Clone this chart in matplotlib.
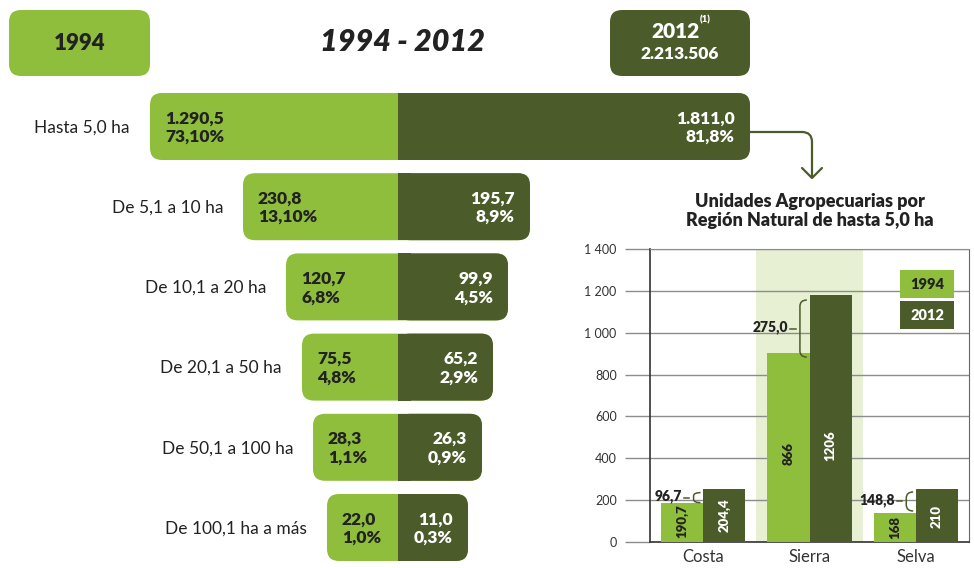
import matplotlib
matplotlib.use('Agg')
import matplotlib.pyplot as plt
import numpy as np
from matplotlib.patches import FancyBboxPatch, Rectangle, PathPatch
from matplotlib.path import Path

plt.rcParams['font.family'] = ['Lato', 'DejaVu Sans']

LIGHT = '#8fbd3c'
DARK = '#4b5b2a'
SHADE = '#e7f0d2'
INK = '#222222'
BW = 'heavy'

# funnel: size ranges, values (thousands) and shares
ranges = ['Hasta 5,0 ha', 'De 5,1 a 10 ha', 'De 10,1 a 20 ha',
          'De 20,1 a 50 ha', 'De 50,1 a 100 ha', 'De 100,1 ha a más']
val_1994 = ['1.290,5', '230,8', '120,7', '75,5', '28,3', '22,0']
pct_1994 = ['73,10%', '13,10%', '6,8%', '4,8%', '1,1%', '1,0%']
val_2012 = ['1.811,0', '195,7', '99,9', '65,2', '26,3', '11,0']
pct_2012 = ['81,8%', '8,9%', '4,5%', '2,9%', '0,9%', '0,3%']
# drawn bar lengths of the funnel halves
len_1994 = [248, 155, 112, 96, 85, 71]
len_2012 = [352, 132, 110, 95, 84, 70]

# bar chart: units by natural region (drawn heights and printed labels)
regions = ['Costa', 'Sierra', 'Selva']
h_1994 = [185, 905, 138]
h_2012 = [253, 1180, 253]
lab_1994 = ['190,7', '866', '168']
lab_2012 = ['204,4', '1206', '210']
lab_y_1994 = [99, 420, 66]
lab_y_2012 = [128, 462, 123]
diff_lab = ['96,7', '275,0', '148,8']
diff_lo = [187, 884, 147]
diff_hi = [235, 1157, 238]

fig = plt.figure(figsize=(9.74, 5.68), dpi=100)

# ---- funnel part, drawn in pixel units ----
ax0 = fig.add_axes([0, 0, 1, 1])
ax0.set_xlim(0, 974)
ax0.set_ylim(568, 0)
ax0.axis('off')

rad = 12
cx = 398
row_h = 67


def rbox(ax, x, y, w, h, color):
    ax.add_patch(FancyBboxPatch((x, y), w, h, boxstyle='round,pad=0,rounding_size=%d' % rad,
                                fc=color, ec='none', zorder=2))


# year boxes
rbox(ax0, 9, 10, 141, 66, LIGHT)
ax0.text(79.5, 44, '1994', ha='center', va='center', fontsize=16, fontweight=BW, color=INK, zorder=3)
rbox(ax0, 610, 10, 140, 66, DARK)
ax0.text(676, 31, '2012', ha='center', va='center', fontsize=15, fontweight=BW,
         color='white', zorder=3)
ax0.text(700, 20, '(1)', ha='left', va='center', fontsize=7, fontweight=BW,
         color='white', zorder=3)
ax0.text(680, 54, '2.213.506', ha='center', va='center', fontsize=12.5, fontweight=BW,
         color='white', zorder=3)
ax0.text(403, 42, '1994 - 2012', ha='center', va='center', fontsize=22, fontweight=BW,
         fontstyle='italic', color=INK)

for i, name in enumerate(ranges):
    top = 93 + 80.2 * i
    yc = top + row_h / 2
    l, r = len_1994[i], len_2012[i]
    rbox(ax0, cx - l, top, l + r, row_h, LIGHT)
    rbox(ax0, cx, top, r, row_h, DARK)
    ax0.add_patch(Rectangle((cx, top), rad + 1, row_h, fc=DARK, ec='none', zorder=2))
    ax0.text(cx - l + 15, yc + 1, val_1994[i] + '\n' + pct_1994[i], ha='left', va='center',
             fontsize=12.5, fontweight=BW, color=INK, linespacing=1.2, zorder=3)
    ax0.text(cx + r - 15, yc + 1, val_2012[i] + '\n' + pct_2012[i], ha='right', va='center',
             fontsize=12.5, fontweight=BW, color='white', linespacing=1.2, zorder=3,
             multialignment='right')
    ax0.text(cx - l - 20, yc + 1, name, ha='right', va='center', fontsize=12.5, color=INK)

# connector arrow
ax0.add_patch(PathPatch(Path([(750, 132), (802, 132), (812, 132), (812, 142), (812, 178)],
                             [Path.MOVETO, Path.LINETO, Path.CURVE3, Path.CURVE3, Path.LINETO]),
                        fc='none', ec=DARK, lw=1.6))
ax0.plot([802, 812, 822], [168, 178, 168], color=DARK, lw=1.6, solid_capstyle='round')

ax0.text(810, 211, 'Unidades Agropecuarias por\nRegión Natural de hasta 5,0 ha', ha='center',
         va='center', fontsize=13, fontweight=BW, color=INK, linespacing=1.2)

# ---- bar chart ----
ax = fig.add_axes([650 / 974, (568 - 541.7) / 568, 319 / 974, 292.4 / 568])
x = np.arange(len(regions))
w = 0.395
ax.axvspan(0.5, 1.5, color=SHADE, zorder=0, lw=0)
ax.bar(x - w / 2, h_1994, w, color=LIGHT, zorder=3)
ax.bar(x + w / 2, h_2012, w, color=DARK, zorder=3)
for i in range(len(regions)):
    ax.text(x[i] - w / 2, lab_y_1994[i], lab_1994[i], rotation=90, ha='center', va='center',
            fontsize=9.5, fontweight=BW, color=INK, zorder=4)
    ax.text(x[i] + w / 2, lab_y_2012[i], lab_2012[i], rotation=90, ha='center', va='center',
            fontsize=9.5, fontweight=BW, color='white', zorder=4)
    # brace between the two bars
    bx = x[i] - 0.09
    arm = x[i] - 0.025
    lo, hi = diff_lo[i], diff_hi[i]
    rr = min(30, (hi - lo) / 3)
    verts = [(arm, hi), (bx, hi), (bx, hi - rr), (bx, lo + rr), (bx, lo), (arm, lo)]
    codes = [Path.MOVETO, Path.CURVE3, Path.CURVE3, Path.LINETO, Path.CURVE3, Path.CURVE3]
    ax.add_patch(PathPatch(Path(verts, codes), fc='none', ec=DARK, lw=1.1, zorder=5))
    mid = (lo + hi) / 2
    ax.plot([bx - 0.09, bx - 0.04], [mid, mid], color=DARK, lw=1.1, zorder=5)
    ax.text(bx - 0.11, mid + 8, diff_lab[i], ha='right', va='center', fontsize=10,
            fontweight=BW, color=INK, zorder=5)

ax.set_xlim(-0.5, 2.5)
ax.set_ylim(0, 1400)
ax.set_yticks(np.arange(0, 1401, 200))
ax.set_yticklabels(['{:,}'.format(v).replace(',', ' ') for v in range(0, 1401, 200)])
ax.yaxis.grid(True, color='#8c8c8c', lw=1)
ax.set_axisbelow(True)
ax.tick_params(axis='y', length=18, width=1, color='#8c8c8c', pad=6, labelsize=9,
               labelcolor='#333333')
ax.set_xticks(x)
ax.set_xticklabels(regions)
ax.tick_params(axis='x', length=0, pad=5, labelsize=12, labelcolor='#333333')
for s in ['left', 'bottom']:
    ax.spines[s].set_color('#333333')
    ax.spines[s].set_linewidth(1.2)
ax.spines['right'].set_color('#666666')
ax.spines['top'].set_color('#8c8c8c')

# legend boxes
for yb, lab, fc, tc in [(0.833, '1994', LIGHT, INK), (0.727, '2012', DARK, 'white')]:
    ax.add_patch(Rectangle((0.784, yb), 0.169, 0.096, transform=ax.transAxes, fc=fc,
                           ec='none', zorder=6))
    ax.text(0.8685, yb + 0.048, lab, transform=ax.transAxes, ha='center', va='center',
            fontsize=10.5, fontweight=BW, color=tc, zorder=7)

fig.savefig('out.png', dpi=100, facecolor='white')
